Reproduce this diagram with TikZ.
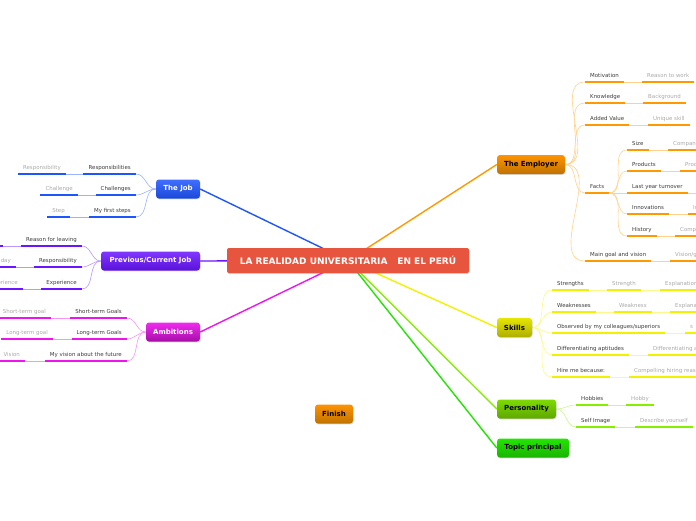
\documentclass[tikz,border=0pt]{standalone}
\usepackage{fontspec}
\setmainfont{DejaVu Sans}
\usetikzlibrary{shadows,backgrounds}

\definecolor{centre}{HTML}{E8553E}
\definecolor{employer}{HTML}{FF9900}
\definecolor{job}{HTML}{1E55FF}
\definecolor{prevjob}{HTML}{6A14FF}
\definecolor{ambit}{HTML}{EE14EE}
\definecolor{skill}{HTML}{F2F200}
\definecolor{person}{HTML}{88EE00}
\definecolor{topicgreen}{HTML}{22E600}
\definecolor{greytext}{HTML}{A8A8A8}
\definecolor{labeltext}{HTML}{3A3A3A}

\newcommand{\subfont}{\fontsize{5.45}{6}\selectfont}
\newcommand{\topicfont}{\fontsize{7}{8}\selectfont\bfseries}

\begin{document}
\begin{tikzpicture}[x=1pt, y=-1pt,
        topic/.style={rectangle, rounded corners=3pt, minimum height=19pt, inner xsep=2pt, font=\topicfont,
            drop shadow={shadow xshift=0.6pt, shadow yshift=-0.9pt, opacity=0.3}},
        sub/.style={font=\subfont, text=labeltext, anchor=south west, inner xsep=5pt, inner ysep=3.5pt,
            text height=4pt, text depth=1.2pt,
            append after command={(\tikzlastnode.south west) edge[draw=#1, line width=2.3pt] (\tikzlastnode.south east)}},
        leaf/.style={sub=#1, text=greytext},
        link/.style={draw=#1!45, line width=0.6pt},
        spoke/.style={draw=#1, line width=1.4pt}]
    \useasboundingbox (0,0) rectangle (696,520);

    % centre and main topics
    \node[fill=centre, text=white, rounded corners=2pt, minimum width=242pt, minimum height=25pt,
        font=\fontsize{9}{10}\selectfont\bfseries,
        drop shadow={shadow xshift=0.6pt, shadow yshift=-0.9pt, opacity=0.3}] (root) at (348,260.5)
        {LA REALIDAD UNIVERSITARIA\hspace{1.1em}EN EL PERÚ};
    \node[topic, minimum width=68pt, top color=orange!85!yellow, bottom color=employer!75!black] (employer) at (531,164.5) {The Employer};
    \node[topic, minimum width=35pt, top color=skill!95!black, bottom color=skill!72!black] (skills) at (514.5,327.5) {Skills};
    \node[topic, minimum width=59pt, top color=person!92!black, bottom color=person!70!black] (personality) at (526.5,409) {Personality};
    \node[topic, minimum width=72pt, top color=topicgreen, bottom color=topicgreen!78!black] (topicp) at (533,448) {Topic principal};
    \node[topic, minimum width=44pt, text=white, top color=job!85!white, bottom color=job!85!black] (job) at (178,189) {The Job};
    \node[topic, minimum width=99pt, text=white, top color=prevjob!85!white, bottom color=prevjob!85!black] (prevjob) at (150.5,261) {Previous/Current Job};
    \node[topic, minimum width=54pt, text=white, top color=ambit!90!white, bottom color=ambit!70!black] (ambitions) at (173,332) {Ambitions};
    \node[topic, minimum width=38pt, top color=orange!85!yellow, bottom color=employer!75!black] (finish) at (334,414) {Finish};

    % The Employer
    \node[sub=employer] (motiv) at (585,82) {Motivation};
    \node[leaf=employer] (reason) at (642,82) {Reason to work};
    \node[sub=employer] (knowl) at (585,103) {Knowledge};
    \node[leaf=employer] (backgr) at (643,103) {Background};
    \node[sub=employer] (added) at (585,125) {Added Value};
    \node[leaf=employer] (unique) at (648,125) {Unique skill};
    \node[sub=employer] (facts) at (585,193) {Facts};
    \node[sub=employer] (size) at (627,150) {Size};
    \node[leaf=employer] (sizeleaf) at (668,150) {Company};
    \node[sub=employer] (prods) at (627,171) {Products};
    \node[leaf=employer] (prodleaf) at (680,171) {Product};
    \node[sub=employer] (turnover) at (627,193) {Last year turnover};
    \coordinate (turnleaf) at (700,193);
    \node[sub=employer] (innov) at (627,214) {Innovations};
    \node[leaf=employer] (innovleaf) at (688,214) {Innovation};
    \node[sub=employer] (hist) at (627,236) {History};
    \node[leaf=employer] (histleaf) at (675,236) {Company};
    \node[sub=employer] (goal) at (585,261) {Main goal and vision};
    \node[leaf=employer] (goalleaf) at (670,261) {Vision/goal};

    % Skills
    \node[sub=skill] (streng) at (552,290) {Strengths};
    \node[leaf=skill] (strength) at (607,290) {Strength};
    \node[leaf=skill] (explain1) at (660,290) {Explanation};
    \node[sub=skill] (weakn) at (552,312) {Weaknesses};
    \node[leaf=skill] (weakness) at (614,312) {Weakness};
    \node[leaf=skill] (explain2) at (670,312) {Explanation};
    \node[sub=skill] (observ) at (552,333) {Observed by my colleagues/superiors};
    \node[leaf=skill] (obsleaf) at (685,333) {s};
    \node[sub=skill] (differ) at (552,355) {Differentiating aptitudes};
    \node[leaf=skill] (diffleaf) at (648,355) {Differentiating aptitude};
    \node[sub=skill] (hire) at (552,377) {Hire me because:};
    \node[leaf=skill] (hireleaf) at (629,377) {Compelling hiring reason};

    % Personality
    \node[sub=person] (hobbies) at (576,405) {Hobbies};
    \node[leaf=person] (hobby) at (626,405) {Hobby};
    \node[sub=person] (selfimg) at (576,427) {Self Image};
    \node[leaf=person] (describe) at (635,427) {Describe yourself};

    % The Job
    \node[sub=job, anchor=south east] (respons) at (136,174) {Responsibilities};
    \node[leaf=job, anchor=south east] (respleaf) at (66,174) {Responsibility};
    \node[sub=job, anchor=south east] (challs) at (136,195) {Challenges};
    \node[leaf=job, anchor=south east] (challeaf) at (78,195) {Challenge};
    \node[sub=job, anchor=south east] (steps) at (136,217) {My first steps};
    \node[leaf=job, anchor=south east] (stepleaf) at (70,217) {Step};

    % Previous/Current Job
    \node[sub=prevjob, anchor=south east] (leaving) at (82,246) {Reason for leaving};
    \node[leaf=prevjob, anchor=south east, minimum width=20pt] (leavleaf) at (3,246) {};
    \node[sub=prevjob, anchor=south east] (resp2) at (82,267) {Responsibility};
    \node[leaf=prevjob, anchor=south east] (dayleaf) at (16,267) {Day to day};
    \node[sub=prevjob, anchor=south east] (exper) at (82,289) {Experience};
    \node[leaf=prevjob, anchor=south east] (experleaf) at (23,289) {Experience};

    % Ambitions
    \node[sub=ambit, anchor=south east] (short) at (127,318) {Short-term Goals};
    \node[leaf=ambit, anchor=south east] (shortleaf) at (51,318) {Short-term goal};
    \node[sub=ambit, anchor=south east] (long) at (127,339) {Long-term Goals};
    \node[leaf=ambit, anchor=south east] (longleaf) at (53,339) {Long-term goal};
    \node[sub=ambit, anchor=south east] (future) at (127,361) {My vision about the future};
    \node[leaf=ambit, anchor=south east] (visleaf) at (25,361) {Vision};

    \begin{scope}[on background layer]
        % spokes from the centre
        \draw[spoke=job] (root.center) -- (job.east);
        \draw[spoke=prevjob] (root.center) -- (prevjob.east);
        \draw[spoke=ambit] (root.center) -- (ambitions.east);
        \draw[spoke=employer] (root.center) -- (employer.west);
        \draw[spoke=skill] (root.center) -- (skills.west);
        \draw[spoke=person] (root.center) -- (personality.west);
        \draw[spoke=topicgreen] (root.center) -- (topicp.west);

        % right side links
        \draw[link=employer] (employer.east) to[out=0, in=180] (motiv.south west);
        \draw[link=employer] (employer.east) to[out=0, in=180] (knowl.south west);
        \draw[link=employer] (employer.east) to[out=0, in=180] (added.south west);
        \draw[link=employer] (employer.east) to[out=0, in=180] (facts.south west);
        \draw[link=employer] (employer.east) to[out=0, in=180] (goal.south west);
        \draw[link=employer] (motiv.south east) -- (reason.south west);
        \draw[link=employer] (knowl.south east) -- (backgr.south west);
        \draw[link=employer] (added.south east) -- (unique.south west);
        \draw[link=employer] (facts.south east) to[out=0, in=180] (size.south west);
        \draw[link=employer] (facts.south east) to[out=0, in=180] (prods.south west);
        \draw[link=employer] (facts.south east) -- (turnover.south west);
        \draw[link=employer] (facts.south east) to[out=0, in=180] (innov.south west);
        \draw[link=employer] (facts.south east) to[out=0, in=180] (hist.south west);
        \draw[link=employer] (size.south east) -- (sizeleaf.south west);
        \draw[link=employer] (prods.south east) -- (prodleaf.south west);
        \draw[link=employer] (turnover.south east) -- (turnleaf);
        \draw[link=employer] (innov.south east) -- (innovleaf.south west);
        \draw[link=employer] (hist.south east) -- (histleaf.south west);
        \draw[link=employer] (goal.south east) -- (goalleaf.south west);

        \draw[link=skill] (skills.east) to[out=0, in=180] (streng.south west);
        \draw[link=skill] (skills.east) to[out=0, in=180] (weakn.south west);
        \draw[link=skill] (skills.east) to[out=0, in=180] (observ.south west);
        \draw[link=skill] (skills.east) to[out=0, in=180] (differ.south west);
        \draw[link=skill] (skills.east) to[out=0, in=180] (hire.south west);
        \draw[link=skill] (streng.south east) -- (strength.south west);
        \draw[link=skill] (strength.south east) -- (explain1.south west);
        \draw[link=skill] (weakn.south east) -- (weakness.south west);
        \draw[link=skill] (weakness.south east) -- (explain2.south west);
        \draw[link=skill] (observ.south east) -- (obsleaf.south west);
        \draw[link=skill] (differ.south east) -- (diffleaf.south west);
        \draw[link=skill] (hire.south east) -- (hireleaf.south west);

        \draw[link=person] (personality.east) to[out=0, in=180] (hobbies.south west);
        \draw[link=person] (personality.east) to[out=0, in=180] (selfimg.south west);
        \draw[link=person] (hobbies.south east) -- (hobby.south west);
        \draw[link=person] (selfimg.south east) -- (describe.south west);

        % left side links
        \draw[link=job] (job.west) to[out=180, in=0] (respons.south east);
        \draw[link=job] (job.west) to[out=180, in=0] (challs.south east);
        \draw[link=job] (job.west) to[out=180, in=0] (steps.south east);
        \draw[link=job] (respons.south west) -- (respleaf.south east);
        \draw[link=job] (challs.south west) -- (challeaf.south east);
        \draw[link=job] (steps.south west) -- (stepleaf.south east);

        \draw[link=prevjob] (prevjob.west) to[out=180, in=0] (leaving.south east);
        \draw[link=prevjob] (prevjob.west) to[out=180, in=0] (resp2.south east);
        \draw[link=prevjob] (prevjob.west) to[out=180, in=0] (exper.south east);
        \draw[link=prevjob] (leaving.south west) -- (leavleaf.south east);
        \draw[link=prevjob] (resp2.south west) -- (dayleaf.south east);
        \draw[link=prevjob] (exper.south west) -- (experleaf.south east);

        \draw[link=ambit] (ambitions.west) to[out=180, in=0] (short.south east);
        \draw[link=ambit] (ambitions.west) to[out=180, in=0] (long.south east);
        \draw[link=ambit] (ambitions.west) to[out=180, in=0] (future.south east);
        \draw[link=ambit] (short.south west) -- (shortleaf.south east);
        \draw[link=ambit] (long.south west) -- (longleaf.south east);
        \draw[link=ambit] (future.south west) -- (visleaf.south east);
    \end{scope}
\end{tikzpicture}
\end{document}
